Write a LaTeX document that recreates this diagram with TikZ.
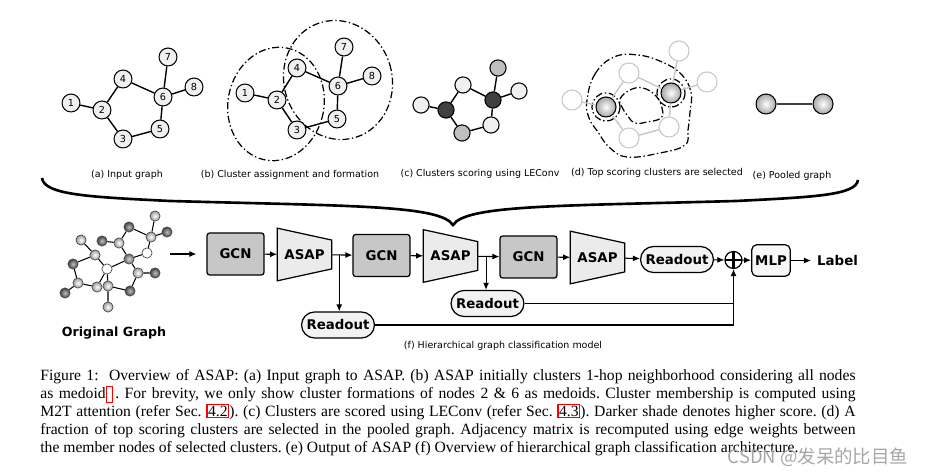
\documentclass[tikz,border=0pt]{standalone}
\usepackage{fontspec}
\setmainfont{Liberation Serif}
\newfontfamily\figfont{DejaVu Sans}
\newfontfamily\cjkfont{Noto Sans CJK SC}
\usetikzlibrary{arrows.meta,shapes.misc,backgrounds,calc}

\newcommand{\reflink}[1]{{\setlength{\fboxsep}{0.3pt}\setlength{\fboxrule}{0.7pt}\fcolorbox{red}{white}{#1}}}

\tikzset{
  vtx/.style={circle, draw, line width=0.6pt, fill=black!6, minimum size=10.2pt, inner sep=0pt, font=\figfont\fontsize{5.5}{6}\selectfont},
  edge/.style={line width=0.8pt},
  cnode/.style={circle, draw, line width=0.6pt, minimum size=9.2pt, inner sep=0pt},
  dnode/.style={circle, draw=black!22, line width=0.6pt, fill=white, minimum size=11.4pt, inner sep=0pt},
  ball/.style={circle, draw, line width=0.6pt, minimum size=11.4pt, inner sep=0pt, inner color=white, outer color=black!35},
  clus/.style={line width=0.7pt, dash pattern=on 4pt off 1.5pt on 0.8pt off 1.5pt},
  atom/.style={circle, draw=black!70, line width=0.4pt, minimum size=5.8pt, inner sep=0pt},
  dark/.style={inner color=black!25, outer color=black!75},
  lite/.style={inner color=white, outer color=black!40},
  bond/.style={line width=0.6pt},
  sublabel/.style={font=\figfont\fontsize{5.4}{6}\selectfont},
  blockfont/.style={font=\figfont\bfseries\fontsize{7.6}{8.5}\selectfont},
  gcn/.style={blockfont, draw, line width=0.7pt, rounded corners=1.5pt, fill=black!22, minimum width=32.4pt, minimum height=23.9pt},
  asap/.style={blockfont, minimum width=30.7pt, minimum height=29.6pt, inner sep=0pt},
  asapshape/.style={draw, line width=0.7pt, fill=black!8},
  readout/.style={blockfont, rounded rectangle, draw, line width=0.7pt, fill=black!5, minimum width=45.5pt, minimum height=14.8pt, inner xsep=2pt},
  mlp/.style={blockfont, draw, rounded corners=3pt, line width=0.7pt, fill=black!3, minimum width=21.6pt, minimum height=18pt, inner xsep=2pt},
  sumnode/.style={circle, draw, line width=0.7pt, minimum size=9.7pt, inner sep=0pt,
    path picture={\draw[line width=1.3pt] (path picture bounding box.north) -- (path picture bounding box.south)
      (path picture bounding box.west) -- (path picture bounding box.east);}},
  flow/.style={-{Latex[length=4pt,width=3.4pt]}, line width=0.6pt},
  brace/.style={line width=1.5pt},
}

\begin{document}
\begin{tikzpicture}[x=0.02cm, y=-0.02cm]
  \useasboundingbox (0,0) rectangle (939,475);

  % (a) input graph
  \node[vtx] (a1) at (71,103) {1};
  \node[vtx] (a2) at (102,110) {2};
  \node[vtx] (a3) at (123,139) {3};
  \node[vtx] (a4) at (123,79) {4};
  \node[vtx] (a5) at (160,129) {5};
  \node[vtx] (a6) at (163,97) {6};
  \node[vtx] (a7) at (168,57) {7};
  \node[vtx] (a8) at (194,87) {8};
  \draw[edge] (a1) -- (a2) (a2) -- (a4) (a2) -- (a3) (a3) -- (a5)
              (a5) -- (a6) (a4) -- (a6) (a6) -- (a7) (a6) -- (a8);
  \node[sublabel] (la) at (127,175) {(a) Input graph};

  % (b) cluster assignment
  \draw[clus, rotate around={-11:(276,104)}] (276,104) ellipse [x radius=48, y radius=57];
  \draw[clus, rotate around={17:(338,80)}] (338,80) ellipse [x radius=54, y radius=60];
  \node[vtx] (b1) at (245,93) {1};
  \node[vtx] (b2) at (277,100) {2};
  \node[vtx] (b3) at (297,130) {3};
  \node[vtx] (b4) at (297,68) {4};
  \node[vtx] (b5) at (337,119) {5};
  \node[vtx] (b6) at (338,86) {6};
  \node[vtx] (b7) at (344,47) {7};
  \node[vtx] (b8) at (372,76) {8};
  \draw[edge] (b1) -- (b2) (b2) -- (b4) (b2) -- (b3) (b3) -- (b5)
              (b5) -- (b6) (b4) -- (b6) (b6) -- (b7) (b6) -- (b8);
  \node[sublabel] (lb) at (290,175) {(b) Cluster assignment and formation};

  % (c) cluster scores
  \node[cnode, fill=black!6] (c1) at (421,105) {};
  \node[cnode, fill=black!75] (c2) at (446,110) {};
  \node[cnode, fill=black!25] (c3) at (462,133) {};
  \node[cnode, fill=black!6] (c4) at (463,85) {};
  \node[cnode, fill=black!6] (c5) at (491,125) {};
  \node[cnode, fill=black!75] (c6) at (493,100) {};
  \node[cnode, fill=black!25] (c7) at (498,68) {};
  \node[cnode, fill=black!6] (c8) at (519,91) {};
  \draw[edge] (c1) -- (c2) (c2) -- (c4) (c2) -- (c3) (c3) -- (c5)
              (c5) -- (c6) (c4) -- (c6) (c6) -- (c7) (c6) -- (c8);
  \node[sublabel] (lc) at (480,174) {(c) Clusters scoring using LEConv};

  % (d) selected clusters
  \draw[clus] plot[smooth cycle, tension=0.7] coordinates {(587,100) (595,74) (614,57) (638,55) (662,62) (681,74) (691,92) (690,112) (688,130) (685,145) (660,153) (627,157) (609,147) (598,132) (589,118)};
  \draw[clus] plot[smooth cycle, tension=0.7] coordinates {(620,99) (630,90) (643,88) (656,96) (662,108) (661,118) (647,122) (635,123) (627,115) (622,107)};
  \node[dnode] (d1) at (572,100) {};
  \node[dnode] (d3) at (629,138) {};
  \node[dnode] (d4) at (629,73) {};
  \node[dnode] (d5) at (669,127) {};
  \node[dnode] (d7) at (679,51) {};
  \node[dnode] (d8) at (707,82) {};
  \node[ball] (d2) at (606,107) {};
  \node[ball] (d6) at (671,93) {};
  \draw[clus] (d2) circle (14);
  \draw[clus] (d6) circle (14);
  \draw[edge, black!22] (d1) -- (d2) (d2) -- (d4) (d2) -- (d3) (d3) -- (d5)
                        (d5) -- (d6) (d4) -- (d6) (d6) -- (d7) (d6) -- (d8);
  \node[sublabel] (ld) at (657,173) {(d) Top scoring clusters are selected};

  % (e) pooled graph
  \node[ball] (e1) at (766,104) {};
  \node[ball] (e2) at (823,104) {};
  \draw[line width=1.2pt, black!75] (e1) -- (e2);
  \node[sublabel] (le) at (792,176) {(e) Pooled graph};

  % brace over the model
  \draw[brace] (42,178) .. controls (44,195) and (90,197) .. (170,201)
    .. controls (350,206) and (440,205) .. (453,225)
    .. controls (466,205) and (556,206) .. (736,201)
    .. controls (816,197) and (856,195) .. (858,180);

  % original graph
  \node[atom, lite] (m1) at (155,216) {};
  \node[atom, dark] (m2) at (129,227) {};
  \node[atom, dark] (m3) at (167,232) {};
  \node[atom, lite] (m4) at (151,237) {};
  \node[atom, dark] (m5) at (102,241) {};
  \node[atom, lite] (m6) at (81,240) {};
  \node[atom, lite] (m7) at (119,243) {};
  \node[atom, fill=white] (m8) at (147,253) {};
  \node[atom, lite] (m9) at (95,255) {};
  \node[atom, inner color=black!15, outer color=black!60] (m10) at (129,259) {};
  \node[atom, dark] (m11) at (73,264) {};
  \node[atom, fill=white] (m12) at (107,269) {};
  \node[atom, lite] (m13) at (138,273) {};
  \node[atom, dark] (m14) at (155,273) {};
  \node[atom, lite] (m15) at (78,283) {};
  \node[atom, lite] (m16) at (97,287) {};
  \node[atom, lite] (m17) at (108,286) {};
  \node[atom, dark] (m18) at (130,291) {};
  \node[atom, dark] (m19) at (65,293) {};
  \node[atom, lite] (m20) at (108,307) {};
  \draw[bond] (m1) -- (m4) (m3) -- (m4) (m2) -- (m4) (m2) -- (m7) (m4) -- (m8)
              (m8) -- (m10) (m7) -- (m10) (m5) -- (m7) (m6) -- (m9) (m9) -- (m12)
              (m9) -- (m11) (m11) -- (m15) (m15) -- (m16) (m16) -- (m12) (m12) -- (m10)
              (m12) -- (m17) (m17) -- (m18) (m18) -- (m13) (m13) -- (m10) (m13) -- (m14)
              (m17) -- (m20) (m15) -- (m19);
  \node[font=\figfont\bfseries\fontsize{7.2}{8}\selectfont] (lorig) at (114,333) {Original Graph};

  % hierarchical model
  \node[gcn] (gcn1) at (235.5,254) {GCN};
  \node[asap] (asap1) at (304.5,254.5) {ASAP};
  \node[gcn] (gcn2) at (381.5,255.5) {GCN};
  \node[asap] (asap2) at (450.5,256) {ASAP};
  \node[gcn] (gcn3) at (528.5,257) {GCN};
  \node[asap] (asap3) at (597.5,257.5) {ASAP};
  \node[readout] (read3) at (677,259.5) {Readout};
  \node[sumnode] (sum) at (733.5,260) {};
  \node[mlp] (mlp) at (771,260.5) {MLP};
  \node[blockfont, anchor=west] (label) at (811,260.5) {Label};
  \node[readout] (read1) at (338,325) {Readout};
  \node[readout] (read2) at (487.5,303.5) {Readout};
  \begin{scope}[on background layer]
    \foreach \a in {asap1,asap2,asap3}
      \draw[asapshape] (\a.north west) -- ([yshift=-6.8pt]\a.north east)
        -- ([yshift=6.8pt]\a.south east) -- (\a.south west) -- cycle;
  \end{scope}

  \coordinate (orig) at (170,254);
  \draw[flow, shorten >=5.7pt] (orig) -- (orig -| gcn1.west);
  \draw[flow] (gcn1) -- (asap1);
  \draw[flow] (asap1) -- (gcn2);
  \draw[flow] (gcn2) -- (asap2);
  \draw[flow] (asap2) -- (gcn3);
  \draw[flow] (gcn3) -- (asap3);
  \draw[flow] (asap3) -- (read3);
  \draw[flow] (read3) -- (sum);
  \draw[flow] (sum) -- (mlp);
  \draw[flow] (mlp) -- (label);
  \coordinate (br1) at ($(asap1.east)!0.36!(gcn2.west)$);
  \coordinate (br2) at ($(asap2.east)!0.38!(gcn3.west)$);
  \draw[flow] (br1) -- (br1 |- read1.north);
  \draw[flow] (br2) -- (br2 |- read2.north);
  \draw[line width=0.6pt] (read2.east) -- (read2.east -| sum.south);
  \draw[flow] (read1.east) -| (sum.south);
  \node[sublabel] (lf) at (503,346) {(f) Hierarchical graph classification model};

  % caption
  \node[anchor=north west, inner sep=0pt, text width=464pt, align=justify,
        font=\fontsize{8.9}{10.24}\selectfont] (caption) at (40,369)
  {\frenchspacing\hyphenpenalty=10000\exhyphenpenalty=10000
   Figure 1:\ \ Overview of ASAP: (a) Input graph to ASAP. (b) ASAP initially clusters 1-hop neighborhood considering all nodes\linebreak
   as medoid\reflink{\vphantom{Ag}\hspace{2pt}}\,. For brevity, we only show cluster formations of nodes 2 \& 6 as medoids. Cluster membership is computed using\linebreak
   M2T attention (refer Sec. \reflink{4.2}). (c) Clusters are scored using LEConv (refer Sec. \reflink{4.3}). Darker shade denotes higher score. (d) A\linebreak
   fraction of top scoring clusters are selected in the pooled graph. Adjacency matrix is recomputed using edge weights between\linebreak
   the member nodes of selected clusters. (e) Output of ASAP (f) Overview of hierarchical graph classification architecture.};

  \node[font=\cjkfont\fontsize{10.5}{12}\selectfont, text=black!35] (mark) at (818,457) {CSDN @发呆的比目鱼};
\end{tikzpicture}
\end{document}
